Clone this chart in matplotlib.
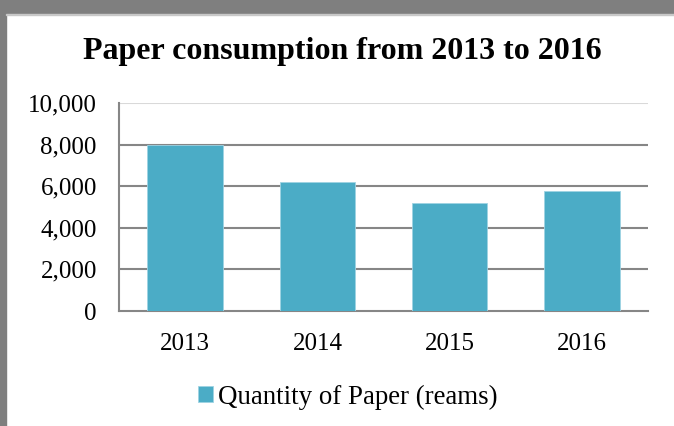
import matplotlib
matplotlib.use("Agg")
import matplotlib.pyplot as plt
from matplotlib.patches import Rectangle
from matplotlib.ticker import FuncFormatter

categories = ["2013", "2014", "2015", "2016"]
values = [8000, 6200, 5200, 5750]
series_name = "Quantity of Paper (reams)"
title = "Paper consumption from 2013 to 2016"
yticks = [0, 2000, 4000, 6000, 8000, 10000]

plt.rcParams['font.family'] = ['Liberation Serif', 'DejaVu Serif']

fig = plt.figure(figsize=(6.74, 4.26), dpi=100)
# gray frame (top and left)
fig.patches.append(Rectangle((0, 1 - 14/426), 1, 14/426, transform=fig.transFigure,
                             color="#7f7f7f", zorder=0))
fig.patches.append(Rectangle((0, 0), 6/674, 1, transform=fig.transFigure,
                             color="#7f7f7f", zorder=0))
fig.patches.append(Rectangle((6/674, 1 - 15/426), 1, 1/426, transform=fig.transFigure,
                             color="#c8c8c8", zorder=0))

ax = fig.add_axes([119/674, 1 - 311/426, (648 - 119)/674, (311 - 103)/426])
x = range(len(categories))
ax.bar(x, values, width=0.57, color="#4BACC6", edgecolor="#9fd3e3", linewidth=0.6,
       zorder=3, label=series_name)
ax.set_xlim(-0.5, len(categories) - 0.5)
ax.set_ylim(0, 10000)
ax.set_yticks(yticks)
ax.yaxis.set_major_formatter(FuncFormatter(lambda v, p: f"{int(v):,}"))
ax.set_xticks(list(x))
ax.set_xticklabels(categories)
for yv in yticks[1:-1]:
    ax.axhline(yv, color="#868686", linewidth=1.5, zorder=1)
ax.axhline(yticks[-1], color="#d9d9d9", linewidth=1.5, zorder=1)
for s in ["top", "right"]:
    ax.spines[s].set_visible(False)
for s in ["left", "bottom"]:
    ax.spines[s].set_color("#868686")
    ax.spines[s].set_linewidth(1.5)
ax.tick_params(axis="both", length=0, labelsize=18, colors="black")
ax.tick_params(axis="y", pad=16)
ax.tick_params(axis="x", pad=16)

fig.text(0.508, 1 - 52/426, title, ha="center", va="center", fontsize=23,
         fontweight="bold")

leg = fig.legend(loc="center", bbox_to_anchor=(0.516, 1 - 397/426), frameon=False,
                 fontsize=19.4, handlelength=0.55, handleheight=0.55, handletextpad=0.2)

fig.savefig("out.png", dpi=100, facecolor="white")
